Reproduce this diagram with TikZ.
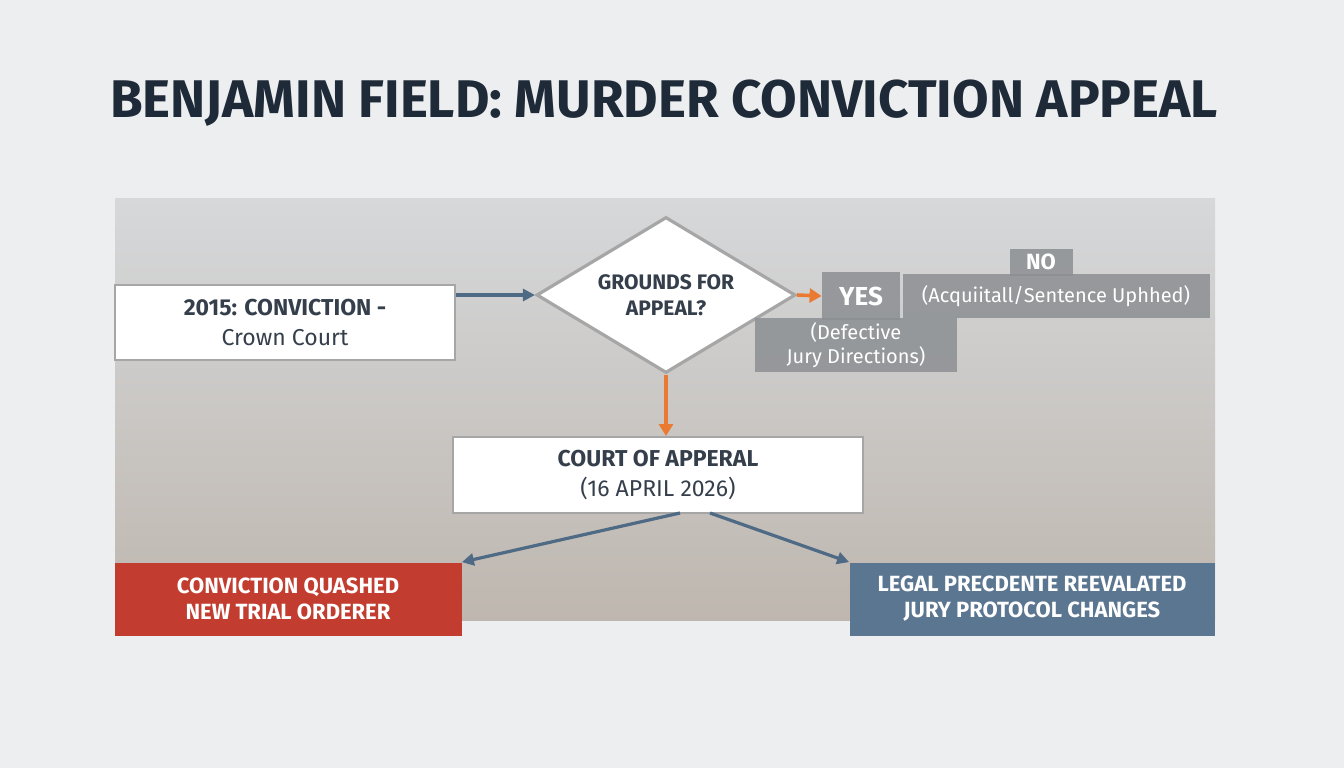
\documentclass[tikz,border=0pt]{standalone}
\usepackage{fontspec}
\setmainfont{Fira Sans}
\usetikzlibrary{arrows.meta,shapes.geometric}
\definecolor{bg}{HTML}{ECEEF0}
\definecolor{photo}{HTML}{C4C7CA}
\definecolor{navy}{HTML}{1E2A38}
\definecolor{arr}{HTML}{4F6A84}
\definecolor{org}{HTML}{EA7A32}
\definecolor{lab}{HTML}{8C8F92}
\definecolor{redb}{HTML}{C23D2F}
\definecolor{blueb}{HTML}{5A7690}
\begin{document}
\begin{tikzpicture}[x=0.5pt,y=-0.5pt,
  wbox/.style={draw=gray!70,line width=1pt,fill=white,text=navy!90,align=center,inner sep=0pt},
  gbox/.style={fill=lab,fill opacity=0.85,text opacity=1,text=white,align=center,inner sep=0pt},
  cbox/.style={text=white,align=center,inner sep=0pt,font=\bfseries\fontsize{11}{13}\selectfont},
  conn/.style={draw=arr,line width=1.6pt,-{Triangle[length=6pt,width=6pt]}},
  oconn/.style={draw=org,line width=1.8pt,-{Triangle[length=6pt,width=7pt]}}]
\useasboundingbox (0,0) rectangle (1344,768);
\fill[bg] (0,0) rectangle (1344,768);
\shade[top color=photo!70!white,bottom color=photo!90!black!60!brown!40!photo] (115,198) rectangle (1215,620);
\node[font=\bfseries\fontsize{26.5}{30}\selectfont,text=navy] (title) at (664,103) {BENJAMIN FIELD: MURDER CONVICTION APPEAL};
\node[wbox,minimum width=170pt,minimum height=37.5pt,font=\fontsize{11.5}{15}\selectfont] (b1) at (285,322) {\textbf{2015: CONVICTION -}\\Crown Court};
\node[wbox,diamond,line width=1.6pt,minimum width=129.5pt,minimum height=78pt,aspect=1.66,font=\bfseries\fontsize{10.5}{13}\selectfont] (d) at (666,295) {GROUNDS FOR\\APPEAL?};
\node[gbox,minimum width=39pt,minimum height=24pt,font=\bfseries\fontsize{13}{15}\selectfont] (yes) at (861,296) {YES};
\node[gbox,minimum width=101pt,minimum height=27pt,font=\fontsize{10}{12}\selectfont] (def) at (856,345) {(Defective\\Jury Directions)};
\node[gbox,minimum width=31.5pt,minimum height=13.5pt,font=\bfseries\fontsize{11}{13}\selectfont] (no) at (1041,262) {NO};
\node[gbox,minimum width=153.5pt,minimum height=22pt,font=\fontsize{10}{12}\selectfont] (acq) at (1056,296) {(Acquiitall/Sentence Uphhed)};
\node[wbox,minimum width=205pt,minimum height=38pt,font=\fontsize{11.5}{15}\selectfont] (c) at (658,475) {\textbf{COURT OF APPERAL}\\(16 APRIL 2026)};
\node[cbox,fill=redb,minimum width=173.5pt,minimum height=36.5pt] (r) at (288,599) {CONVICTION QUASHED\\NEW TRIAL ORDERER};
\node[cbox,fill=blueb,minimum width=182.5pt,minimum height=36.5pt] (bl) at (1032,599) {LEGAL PRECDENTE REEVALATED\\JURY PROTOCOL CHANGES};
\draw[conn] (b1.east|-0,295) -- (d.west);
\draw[oconn] (d.east) -- (yes.west);
\draw[oconn] (d.south) -- (c.north-|d.south);
\draw[conn] (680,513) -- (r.north east);
\draw[conn] (710,513) -- (bl.north west);
\end{tikzpicture}
\end{document}
